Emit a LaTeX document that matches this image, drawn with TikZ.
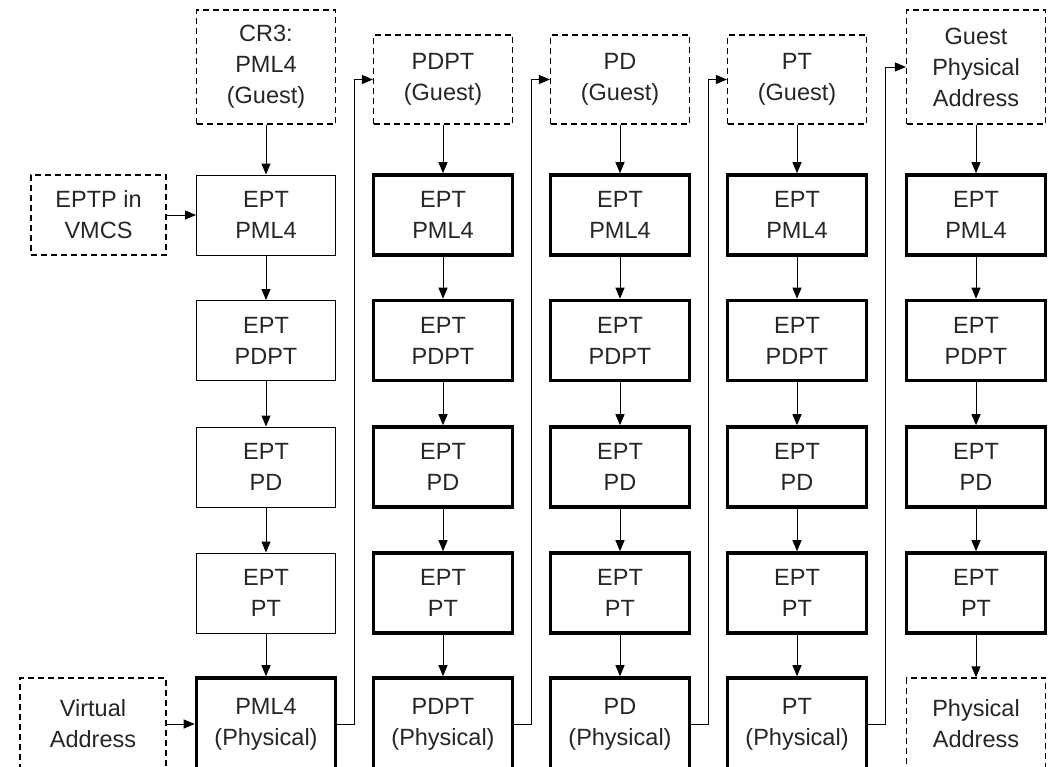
\documentclass[tikz,border=0pt]{standalone}
\usepackage{fontspec}
\setmainfont{Liberation Sans}
\usetikzlibrary{arrows.meta}

\begin{document}
\begin{tikzpicture}[x=1pt,y=-1pt,
  every node/.style={align=center,inner sep=0pt,text=black!85,font=\fontsize{23.5}{31}\selectfont},
  guest/.style={draw,line width=1.2pt,dash pattern=on 6pt off 4pt,minimum width=139pt,minimum height=89pt},
  eptthin/.style={draw,line width=1pt,minimum width=139pt,minimum height=80pt},
  eptthick/.style={draw,line width=3.6pt,minimum width=139pt,minimum height=80pt},
  link/.style={line width=1pt,-{Triangle[length=11pt,width=9pt]}}]
\useasboundingbox (0,0) rectangle (1056,766);
% guest tables on top
\node[guest,minimum height=114pt] (g1) at (266,67) {CR3:\\PML4\\(Guest)};
\node[guest] (g2) at (443,79.5) {PDPT\\(Guest)};
\node[guest] (g3) at (620,79.5) {PD\\(Guest)};
\node[guest] (g4) at (797,79.5) {PT\\(Guest)};
\node[guest,minimum height=114pt] (g5) at (976,67) {Guest\\Physical\\Address};
% inputs on the left
\node[guest,minimum width=135pt,minimum height=80pt] (eptp) at (98.5,215) {EPTP in\\VMCS};
\node[guest,minimum width=146pt,minimum height=92pt] (va) at (93,724) {Virtual\\Address};
% EPT walks
\foreach \col/\x/\sty in {1/266/eptthin,2/443/eptthick,3/620/eptthick,4/797/eptthick,5/976/eptthick}{
  \node[\sty] (pml\col) at (\x,215) {EPT\\PML4};
  \node[\sty] (pdpt\col) at (\x,340.5) {EPT\\PDPT};
  \node[\sty] (pd\col) at (\x,467) {EPT\\PD};
  \node[\sty] (pt\col) at (\x,593) {EPT\\PT};
}
% results at the bottom
\node[eptthick,minimum height=92pt] (b1) at (266,724) {PML4\\(Physical)};
\node[eptthick,minimum height=92pt] (b2) at (443,724) {PDPT\\(Physical)};
\node[eptthick,minimum height=92pt] (b3) at (620,724) {PD\\(Physical)};
\node[eptthick,minimum height=92pt] (b4) at (797,724) {PT\\(Physical)};
\node[guest,minimum height=92pt] (b5) at (976,724) {Physical\\Address};
\foreach \col in {1,...,5}{
  \draw[link] (g\col) -- (pml\col);
  \draw[link] (pml\col) -- (pdpt\col);
  \draw[link] (pdpt\col) -- (pd\col);
  \draw[link] (pd\col) -- (pt\col);
  \draw[link] (pt\col) -- (b\col);
}
\draw[link] (eptp) -- (pml1);
\draw[link] (va) -- (b1);
% physical address feeds the next guest table
\draw[link] (b1.east) -- ++(17,0) |- (g2.west);
\draw[link] (b2.east) -- ++(17,0) |- (g3.west);
\draw[link] (b3.east) -- ++(17,0) |- (g4.west);
\draw[link] (b4.east) -- ++(17,0) |- (g5.west);
\end{tikzpicture}
\end{document}
